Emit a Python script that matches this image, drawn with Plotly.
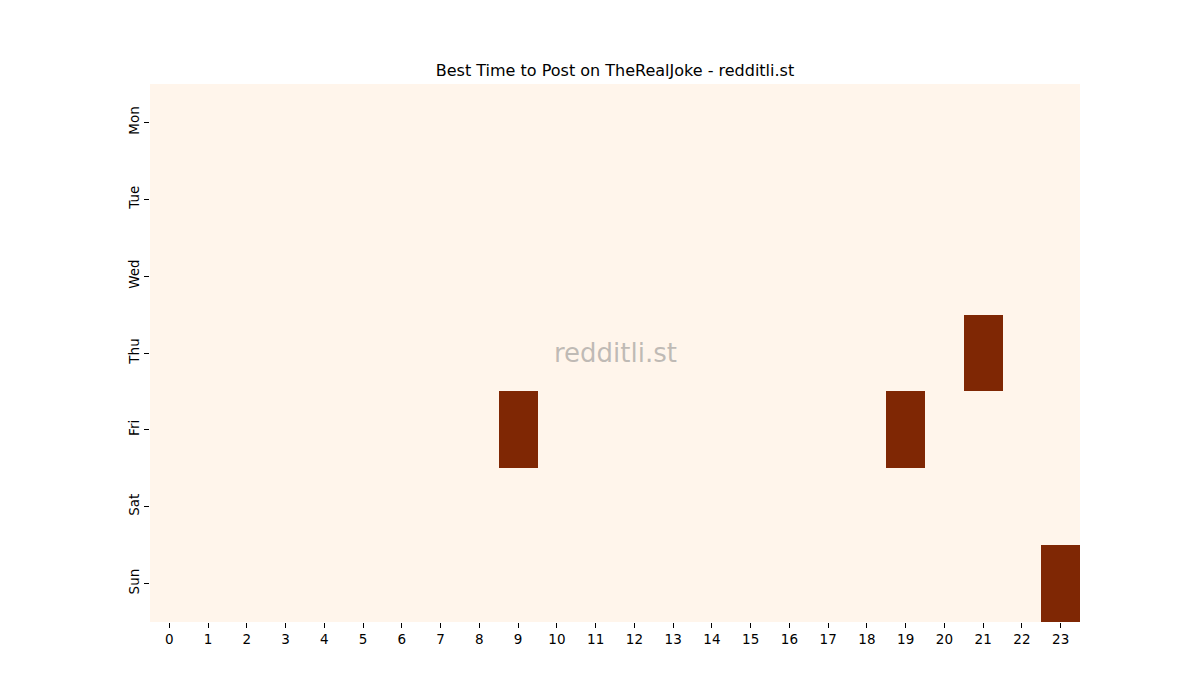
import plotly.graph_objects as go

# data
days = ["Mon", "Tue", "Wed", "Thu", "Fri", "Sat", "Sun"]
hours = list(range(24))
# (day, hour) cells that are at the top of the scale
hot_days = ["Thu", "Fri", "Fri", "Sun"]
hot_hours = [21, 9, 19, 23]
hot_values = [1, 1, 1, 1]

z = [[0] * len(hours) for _ in days]
for d, h, v in zip(hot_days, hot_hours, hot_values):
    z[days.index(d)][h] = v

tick_font = dict(family="DejaVu Sans", size=13.5, color="black")

fig = go.Figure()
fig.add_trace(
    go.Heatmap(
        z=z,
        x=hours,
        y=days,
        colorscale=[[0, "#fff5eb"], [1, "#7f2704"]],
        zmin=0,
        zmax=1,
        showscale=False,
        xgap=0,
        ygap=0,
    )
)

fig.update_layout(
    width=1200,
    height=700,
    margin=dict(l=142, r=128, t=76, b=86),
    paper_bgcolor="white",
    plot_bgcolor="white",
    font=dict(family="DejaVu Sans", size=13, color="black"),
    title=dict(
        text="Best Time to Post on TheRealJoke - redditli.st",
        x=(142 + 465) / 1200,
        xanchor="center",
        y=1 - 62 / 700,
        yanchor="middle",
        font=dict(size=16, color="black"),
    ),
    xaxis=dict(
        tickmode="array",
        tickvals=hours,
        ticktext=[str(h) for h in hours],
        tickfont=tick_font,
        ticks="outside",
        ticklen=5,
        tickcolor="black",
        showgrid=False,
        zeroline=False,
        showline=False,
        range=[-0.5, 23.5],
    ),
    yaxis=dict(
        autorange="reversed",
        tickfont=tick_font,
        ticks="outside",
        ticklen=5,
        tickcolor="black",
        tickangle=-90,
        showgrid=False,
        zeroline=False,
        showline=False,
    ),
    annotations=[
        dict(
            text="redditli.st",
            x=0.5,
            y=0.5,
            xref="paper",
            yref="paper",
            showarrow=False,
            font=dict(family="DejaVu Sans", size=26, color="rgba(128,128,128,0.5)"),
        )
    ],
)

fig.write_html("out.html")
